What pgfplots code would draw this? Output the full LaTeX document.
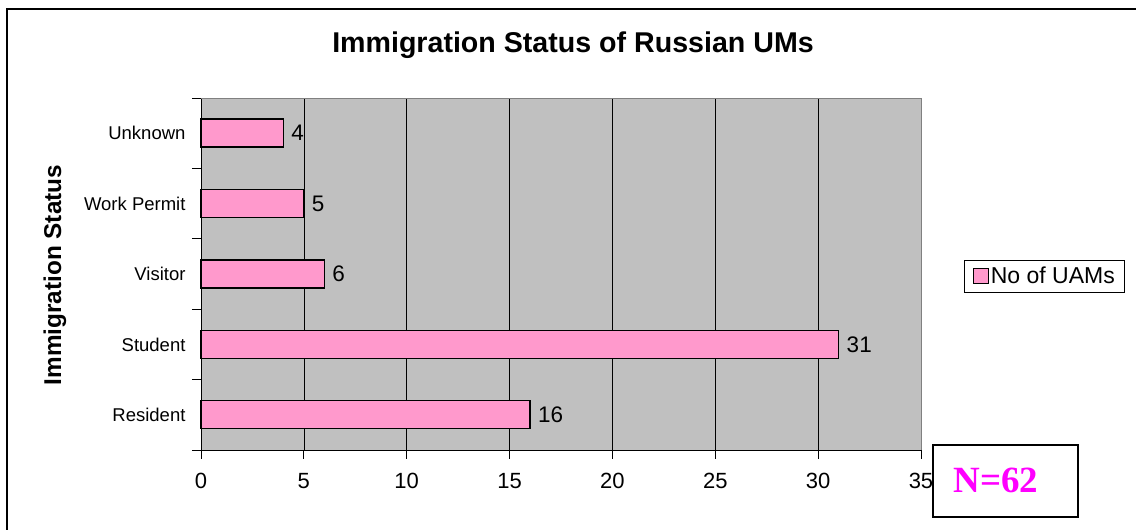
\documentclass[border=0pt]{standalone}
\usepackage{pgfplots}
\pgfplotsset{compat=1.18}
\usepackage{fontspec}
\setmainfont{Liberation Sans}
\newfontfamily\serifb{Liberation Serif}
\definecolor{plotgray}{HTML}{C0C0C0}
\definecolor{barpink}{HTML}{FF99CC}
\definecolor{nmag}{HTML}{FF00FF}
\begin{document}
\begin{tikzpicture}
\useasboundingbox (0pt,0pt) rectangle (1136pt,530pt);
\begin{scope}
\clip (0pt,0pt) rectangle (1136pt,530pt);
\draw[line width=1.5pt] (7pt,-20pt) -- (7pt,521pt) -- (1150pt,521pt);
\end{scope}
\begin{axis}[
  at={(201pt,80pt)}, anchor=south west,
  width=720pt, height=352pt, scale only axis,
  xbar, bar width=28pt,
  xmin=0, xmax=35, ymin=-0.5, ymax=4.5,
  axis background/.style={fill=plotgray},
  separate axis lines,
  axis x line*=bottom, axis y line*=left,
  x axis line style={draw=black, line width=0.9pt, -},
  y axis line style={draw=black, line width=0.9pt, -},
  xtick={0,5,...,35},
  xmajorgrids, major grid style={black, line width=0.7pt},
  x tick style={black, line width=0.8pt},
  y tick style={black, line width=0.8pt},
  tick align=outside,
  major tick length=9pt,
  xticklabel style={font=\fontsize{22}{26}\selectfont, yshift=-11pt},
  /pgf/number format/assume math mode=true,
  ytick={-0.5,0.5,1.5,2.5,3.5,4.5},
  yticklabels={},
  extra y ticks={0,1,2,3,4},
  extra y tick labels={Resident,Student,Visitor,Work Permit,Unknown},
  extra y tick style={tick style={draw=none}, grid=none,
    yticklabel style={font=\fontsize{18.5}{22}\selectfont, xshift=-3pt}},
  nodes near coords,
  nodes near coords style={font=\fontsize{22.5}{26}\selectfont, anchor=west, xshift=4pt},
  legend style={at={(1.172,0.494)}, anchor=center, draw=black, line width=0.8pt,
    font=\fontsize{23}{26}\selectfont, inner xsep=8pt, inner ysep=5pt},
  legend image code/.code={\draw[#1, line width=1pt] (0pt,-7.5pt) rectangle (15pt,7.5pt);},
  clip=false,
]
\addplot[fill=barpink, draw=black, line width=1.4pt] coordinates {(16,0) (31,1) (6,2) (5,3) (4,4)};
\addlegendentry{No of UAMs}
\draw[gray, line width=0.9pt] (axis cs:0,4.5) -- (axis cs:35,4.5) -- (axis cs:35,-0.5);
\end{axis}
\node[font=\fontsize{28.6}{32}\selectfont\bfseries] at (573pt,485pt) {Immigration Status of Russian UMs};
\node[font=\fontsize{24.3}{28}\selectfont\bfseries, rotate=90] at (55pt,255pt) {Immigration Status};
\draw[line width=1.5pt] (933pt,85pt) rectangle (1078pt,13pt);
\node[font=\fontsize{37}{40}\selectfont\serifb\bfseries, text=nmag] at (996pt,50pt) {N=62};
\end{tikzpicture}
\end{document}
